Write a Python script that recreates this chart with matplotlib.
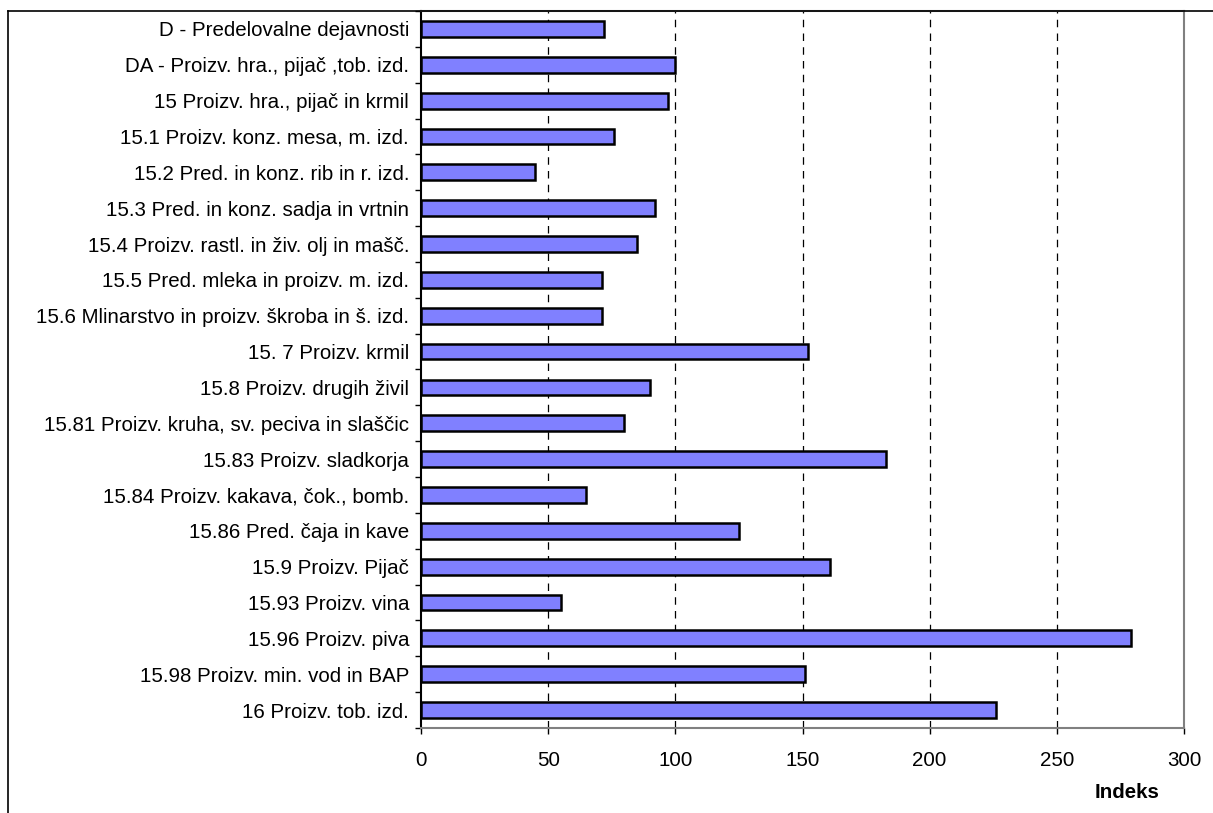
import matplotlib.pyplot as plt
import numpy as np
from matplotlib.lines import Line2D

# Kategorije dejavnosti in indeksi
kategorije = [
    "D - Predelovalne dejavnosti",
    "DA - Proizv. hra., pijač ,tob. izd.",
    "15 Proizv. hra., pijač in krmil",
    "15.1 Proizv. konz. mesa, m. izd.",
    "15.2 Pred. in konz. rib in r. izd.",
    "15.3 Pred. in konz. sadja in vrtnin",
    "15.4 Proizv. rastl. in živ. olj in mašč.",
    "15.5 Pred. mleka in proizv. m. izd.",
    "15.6 Mlinarstvo in proizv. škroba in š. izd.",
    "15. 7 Proizv. krmil",
    "15.8 Proizv. drugih živil",
    "15.81 Proizv. kruha, sv. peciva in slaščic",
    "15.83 Proizv. sladkorja",
    "15.84 Proizv. kakava, čok., bomb.",
    "15.86 Pred. čaja in kave",
    "15.9 Proizv. Pijač",
    "15.93 Proizv. vina",
    "15.96 Proizv. piva",
    "15.98 Proizv. min. vod in BAP",
    "16 Proizv. tob. izd.",
]
indeksi = [72, 100, 97, 76, 45, 92, 85, 71, 71, 152,
           90, 80, 183, 65, 125, 161, 55, 279, 151, 226]
x_ticks = [0, 50, 100, 150, 200, 250, 300]

plt.rcParams['font.family'] = ['Liberation Sans', 'DejaVu Sans']
FS = 14.8

fig = plt.figure(figsize=(12.13, 8.13), dpi=100)
ax = fig.add_axes([421 / 1213, 1 - 728 / 813, (1184 - 421) / 1213, (728 - 11) / 813])

y = np.arange(len(kategorije))
ax.barh(y, indeksi, height=0.44, color='#8080FF', edgecolor='black',
        linewidth=1.8, zorder=3)

ax.set_xlim(0, 300)
ax.set_ylim(len(kategorije) - 0.5, -0.5)

# mreža
ax.set_xticks(x_ticks)
for v in x_ticks[1:-1]:
    ax.axvline(v, color='black', linewidth=0.9, linestyle=(0, (6, 5)), zorder=1)

# oznake kategorij brez črtic, črtice med kategorijami
ax.set_yticks(y)
ax.set_yticklabels(kategorije, fontsize=FS)
ax.set_yticks(np.arange(-0.5, len(kategorije)), minor=True)
ax.tick_params(axis='y', which='major', length=0, pad=8.6)
ax.tick_params(axis='y', which='minor', length=4.3, width=1, color='black')
ax.tick_params(axis='x', which='major', length=4.3, width=1, color='black',
               pad=12, labelsize=FS)

for s in ['top', 'right', 'bottom']:
    ax.spines[s].set_color('#808080')
    ax.spines[s].set_linewidth(1.5)
ax.spines['left'].set_color('black')
ax.spines['left'].set_linewidth(1.5)

fig.text(1127 / 1213, 1 - 792 / 813, "Indeks", fontsize=FS, fontweight='bold',
         ha='center', va='center')

# okvir grafikona
fig.add_artist(Line2D([8 / 1213, 8 / 1213], [0, 1 - 11 / 813],
                      transform=fig.transFigure, color='black', linewidth=1.2))
fig.add_artist(Line2D([8 / 1213, 1], [1 - 11 / 813, 1 - 11 / 813],
                      transform=fig.transFigure, color='black', linewidth=1.2))

fig.savefig("out.png", dpi=100, facecolor='white')
